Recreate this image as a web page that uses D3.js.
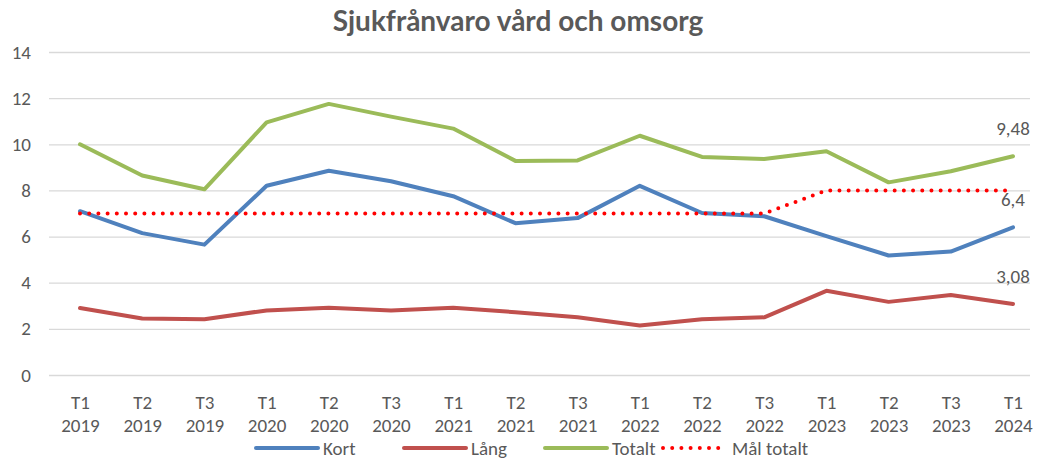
<!DOCTYPE html>
<html><head><meta charset="utf-8">
<script src="https://cdn.jsdelivr.net/npm/d3@7"></script>
<style>body{margin:0;background:#fff;}svg{display:block;}</style>
</head><body>
<svg id="c" width="1042" height="475"></svg>
<script>
const periods = ["T1","T2","T3","T1","T2","T3","T1","T2","T3","T1","T2","T3","T1","T2","T3","T1"];
const years = ["2019","2019","2019","2020","2020","2020","2021","2021","2021","2022","2022","2022","2023","2023","2023","2024"];
const kort = [7.1,6.15,5.65,8.2,8.85,8.4,7.75,6.58,6.8,8.2,7.02,6.88,6.02,5.18,5.35,6.4];
const lang = [2.9,2.45,2.42,2.8,2.92,2.8,2.92,2.72,2.5,2.15,2.42,2.5,3.65,3.17,3.47,3.08];
const totalt = [10.0,8.65,8.05,10.95,11.75,11.2,10.68,9.28,9.3,10.37,9.45,9.36,9.7,8.35,8.83,9.48];
const mal = [7,7,7,7,7,7,7,7,7,7,7,7,8,8,8,8];
const yTicks = [0,2,4,6,8,10,12,14];
const seriesNames = ["Kort","Lång","Totalt","Mål totalt"];
const colors = ["#4F81BD","#C0504D","#9BBB59","#FF0000"];

const svg = d3.select("#c");
const font = "Calibri, Carlito, Lato, 'Open Sans', sans-serif";
const fs = 19;
const txt = "#595959";
const idx = d3.range(periods.length);
const x = d3.scalePoint().domain(idx).range([80,1013]);
const y = d3.scaleLinear().domain([0,14]).range([375,52]);

svg.append("text").attr("x",518).attr("y",31).attr("text-anchor","middle")
  .attr("font-family","'Gill Sans', Lato, sans-serif").attr("font-weight","bold")
  .attr("font-size",28).attr("fill",txt).text("Sjukfrånvaro vård och omsorg");

const yAxis = d3.axisLeft(y).tickValues(yTicks).tickSize(-(1030-49)).tickFormat(d=>d);
const gy = svg.append("g").attr("transform","translate(49,0)").call(yAxis);
gy.select(".domain").remove();
gy.selectAll(".tick line").attr("stroke","#d9d9d9").attr("stroke-width",1.3);
gy.selectAll(".tick text").attr("x",-18).attr("font-family",font).attr("font-size",fs).attr("fill",txt).attr("text-anchor","end");

const xAxis = d3.axisBottom(x).tickSize(0).tickFormat(()=>"");
const gx = svg.append("g").attr("transform","translate(0,375)").call(xAxis);
gx.select(".domain").remove();
gx.selectAll(".tick").each(function(d){
  const t = d3.select(this).append("text").attr("font-family",font).attr("font-size",fs).attr("fill",txt).attr("text-anchor","middle");
  t.append("tspan").attr("x",0).attr("y",34).text(periods[d]);
  t.append("tspan").attr("x",0).attr("y",57).text(years[d]);
});

const line = d3.line().x((d,i)=>x(i)).y(d=>y(d));
const data = [kort,lang,totalt];
data.forEach((s,k)=>{
  svg.append("path").datum(s).attr("d",line).attr("fill","none").attr("stroke",colors[k])
    .attr("stroke-width",4).attr("stroke-linejoin","round").attr("stroke-linecap","round");
});
svg.append("path").datum(mal).attr("d",line).attr("fill","none").attr("stroke",colors[3])
  .attr("stroke-width",4).attr("stroke-dasharray","0 9.2").attr("stroke-linecap","round");

// end labels
const last = periods.length-1;
[[totalt,"9,48"],[kort,"6,4"],[lang,"3,08"]].forEach(([s,l])=>{
  svg.append("text").attr("x",x(last)).attr("y",y(s[last])-21).attr("text-anchor","middle")
    .attr("font-family",font).attr("font-size",fs).attr("fill",txt).text(l);
});

// legend
const legX = [256,404,545,663];
const legW = [62,62,62,60];
seriesNames.forEach((n,k)=>{
  const g = svg.append("g");
  const ln = g.append("line").attr("x1",legX[k]).attr("x2",legX[k]+legW[k]).attr("y1",448).attr("y2",448)
    .attr("stroke",colors[k]).attr("stroke-width",4).attr("stroke-linecap","round");
  if(k===3) ln.attr("stroke-dasharray","0 9.2");
  g.append("text").attr("x",legX[k]+legW[k]+ (k===3?9:5)).attr("y",455).attr("font-family",font).attr("font-size",fs).attr("fill",txt).text(n);
});
</script>
</body></html>
